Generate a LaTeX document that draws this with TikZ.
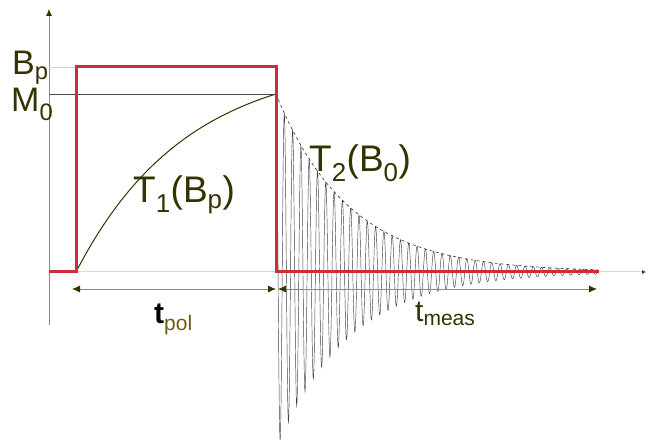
\documentclass[tikz,border=0pt]{standalone}
\usepackage{fontspec}
\setmainfont{Liberation Sans}
\usepackage{tikz}
\usetikzlibrary{arrows.meta}
\definecolor{nmrSignalRed}{HTML}{CC2E35}
\definecolor{nmrLabelOlive}{HTML}{333300}
\definecolor{nmrSubOlive}{HTML}{6B5A10}
\definecolor{nmrAxisGray}{HTML}{8A8A80}

\begin{document}
\begin{tikzpicture}[x=1pt, y=1pt]
            \useasboundingbox (0,0) rectangle (648,443);
            \tikzset{bigLabel/.style={font=\fontsize{34}{34}\selectfont, text=nmrLabelOlive, inner sep=0pt, anchor=base west}}
            % axes
            \coordinate (origin) at (49,118);
            \coordinate (yTop) at (49,434);
            \coordinate (zeroLeft) at (49,171);
            \coordinate (xEnd) at (646,171);
            \draw[nmrAxisGray, line width=0.8pt, -{Latex[length=7pt, width=6pt, color=nmrLabelOlive]}] (origin) -- (yTop);
            \draw[gray!30, line width=1pt, -{Latex[length=4pt, width=4pt, color=nmrLabelOlive]}] (zeroLeft) -- (xEnd);
            % levels
            \coordinate (bpLeft) at (49,376);
            \coordinate (bpRight) at (76,376);
            \coordinate (mzLeft) at (49,349);
            \coordinate (mzRight) at (276,349);
            \draw[gray!35, line width=0.7pt] (bpLeft) -- (bpRight);
            \draw[black!70, line width=0.7pt] (mzLeft) -- (mzRight);
            % T1 build-up
            \draw[nmrLabelOlive, line width=1pt] plot[domain=76:276, samples=120]
                (\x, {171+178*(1-exp(-(\x-76)/110))/(1-exp(-200/110))});
            % FID and envelope
            \draw[black!75, line width=0.45pt] plot[domain=276:598, samples=1400]
                (\x, {171+178*exp(-(\x-276)/73)*cos((\x-276)/8.3*360)});
            \draw[black!80, line width=0.6pt, dashed] plot[domain=276:598, samples=120]
                (\x, {171+178*exp(-(\x-276)/73)});
            % polarising pulse
            \coordinate (pulseOn) at (76,171);
            \coordinate (pulseOff) at (276,171);
            \coordinate (redEnd) at (599,171);
            \draw[nmrSignalRed, line width=3pt, line join=miter] (zeroLeft) -- (pulseOn) |- (mzRight |- bpRight) -- (pulseOff) -- (redEnd);
            % time spans
            \coordinate (polStart) at (72,154);
            \coordinate (polStop) at (276,154);
            \coordinate (measStart) at (278,154);
            \coordinate (measStop) at (597,154);
            \draw[nmrAxisGray, line width=0.8pt, {Latex[length=8pt, width=7pt, color=nmrLabelOlive]}-{Latex[length=8pt, width=7pt, color=nmrLabelOlive]}] (polStart) -- (polStop);
            \draw[nmrAxisGray, line width=0.8pt, {Latex[length=8pt, width=7pt, color=nmrLabelOlive]}-{Latex[length=8pt, width=7pt, color=nmrLabelOlive]}] (measStart) -- (measStop);
            % labels
            \node[bigLabel] (bpLabel) at (12,368) {B\textsubscript{p}};
            \node[bigLabel] (mzLabel) at (11,331) {M\textsubscript{0}};
            \node[bigLabel, font=\fontsize{37}{37}\selectfont] (tOneLabel) at (133,240) {T\textsubscript{1}(B\textsubscript{p})};
            \node[bigLabel, font=\fontsize{37}{37}\selectfont] (tTwoLabel) at (309,271) {T\textsubscript{2}(B\textsubscript{0})};
            \node[bigLabel, text=black, font=\fontsize{30}{30}\selectfont\bfseries] (tPolLabel) at (154,119) {t\textsubscript{\mdseries\color{nmrSubOlive}pol}};
            \node[bigLabel, font=\fontsize{30}{30}\selectfont] (tMeasLabel) at (415,121) {t\textsubscript{meas}};
        \end{tikzpicture}
\end{document}
